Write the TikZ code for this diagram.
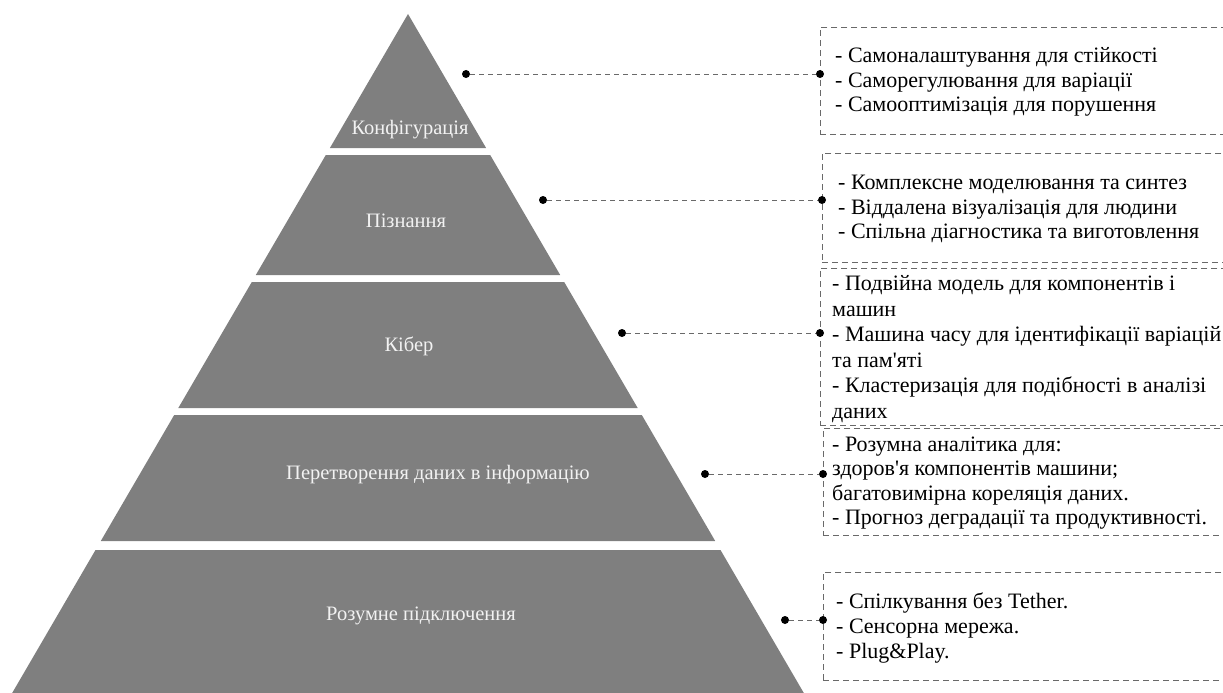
\documentclass[tikz,border=0pt]{standalone}
\usepackage{fontspec}
\usepackage{tikz}
\newfontfamily\shryft{Liberation Serif}
\usetikzlibrary{positioning}
\definecolor{sirij}{RGB}{127,127,127}
\definecolor{svitlyj}{RGB}{242,242,242}
\definecolor{liniya}{RGB}{105,105,105}

\tikzset{
  rivenj/.style={fill=sirij},
  napys/.style={text=svitlyj, font=\shryft\fontsize{20.5}{24}\selectfont, inner sep=0pt},
  krapka/.style={circle, fill=black, inner sep=0pt, minimum size=8pt},
  zvjazok/.style={draw=liniya, dash pattern=on 5pt off 4pt, line width=0.8pt},
  ramka/.style={draw=liniya, dash pattern=on 6pt off 4pt, line width=0.8pt, anchor=north west, inner sep=0pt, minimum width=430pt},
  opys/.style={anchor=west, align=left, font=\shryft\fontsize{22}{24.8}\selectfont, inner sep=0pt}
}

\begin{document}
\begin{tikzpicture}[x=1pt, y=-1pt]
    \useasboundingbox (0,0) rectangle (1223,693);

    % Piramida
    \fill[rivenj] (408,14) -- (486.1,148) -- (329.9,148) -- cycle;
    \fill[rivenj] (325.8,155) -- (490.2,155) -- (560.2,275) -- (255.8,275) -- cycle;
    \fill[rivenj] (251.8,282) -- (564.2,282) -- (637.7,408) -- (178.3,408) -- cycle;
    \fill[rivenj] (174.2,415) -- (641.8,415) -- (715.2,541) -- (100.8,541) -- cycle;
    \fill[rivenj] (95.5,550) -- (720.5,550) -- (807.9,700) -- (8.1,700) -- cycle;

    % Nazvy rivniv
    \node[napys] (l1) at (410,130) {Конфігурація};
    \node[napys] (l2) at (406,221) {Пізнання};
    \node[napys] (l3) at (409,346) {Кібер};
    \node[napys] (l4) at (438,475) {Перетворення даних в інформацію};
    \node[napys] (l5) at (421,616) {Розумне підключення};

    % Ramky
    \node[ramka, minimum height=107pt] (r1) at (820,27) {};
    \node[ramka, minimum height=109pt] (r2) at (822,153) {};
    \node[ramka, minimum height=157pt] (r3) at (820,268) {};
    \node[ramka, minimum height=107pt] (r4) at (823,428) {};
    \node[ramka, minimum height=108pt] (r5) at (823,572) {};

    % Teksty
    \node[opys] (t1) at (835,82) {- Самоналаштування для стійкості\\- Саморегулювання для варіації\\- Самооптимізація для порушення};
    \node[opys] (t2) at (838,209) {- Комплексне моделювання та синтез\\- Віддалена візуалізація для людини\\- Спільна діагностика та виготовлення};
    \node[opys, font=\shryft\fontsize{22}{25.6}\selectfont] (t3) at (832,349) {- Подвійна модель для компонентів і\\машин\\- Машина часу для ідентифікації варіацій\\та пам'яті\\- Кластеризація для подібності в аналізі\\даних};
    \node[opys, font=\shryft\fontsize{22}{24.2}\selectfont] (t4) at (832,483) {- Розумна аналітика для:\\здоров'я компонентів машини;\\багатовимірна кореляція даних.\\- Прогноз деградації та продуктивності.};
    \node[opys] (t5) at (836,628) {- Спілкування без Tether.\\- Сенсорна мережа.\\- Plug\&Play.};

    % Krapky
    \node[krapka] (d1) at (466,74) {};
    \node[krapka] (d2) at (543,200) {};
    \node[krapka] (d3) at (622,333) {};
    \node[krapka] (d4) at (705,474) {};
    \node[krapka] (d5) at (785,620) {};
    \node[krapka] (k1) at (r1.west |- d1) {};
    \node[krapka] (k2) at (r2.west |- d2) {};
    \node[krapka] (k3) at (r3.west |- d3) {};
    \node[krapka] (k4) at (r4.west |- d4) {};
    \node[krapka] (k5) at (r5.west |- d5) {};

    % Zvjazky
    \draw[zvjazok] (d1) -- (k1);
    \draw[zvjazok] (d2) -- (k2);
    \draw[zvjazok] (d3) -- (k3);
    \draw[zvjazok] (d4) -- (k4);
    \draw[zvjazok] (d5) -- (k5);
\end{tikzpicture}
\end{document}
